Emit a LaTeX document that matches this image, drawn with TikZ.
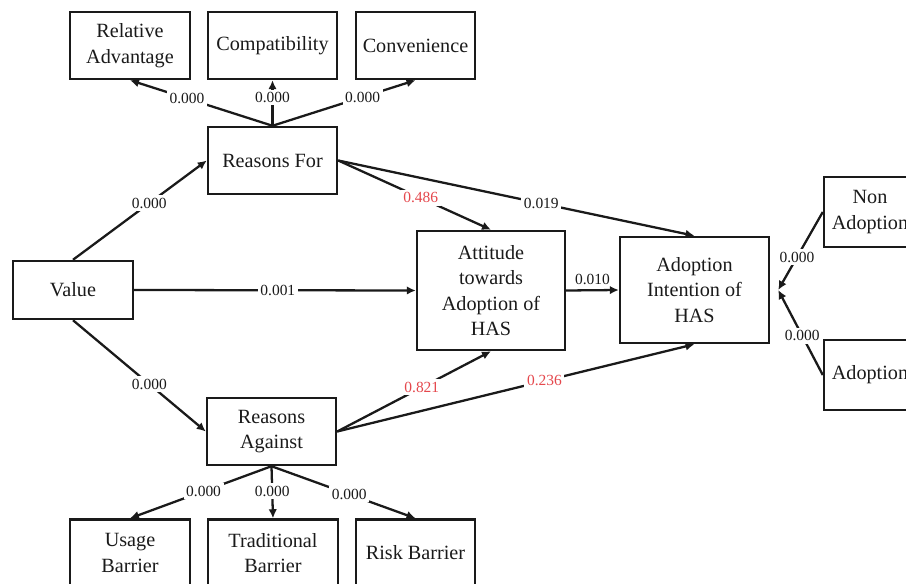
\documentclass[tikz,border=0pt]{standalone}
\usepackage{fontspec}
\setmainfont{Liberation Serif}
\usetikzlibrary{positioning,arrows.meta}
\definecolor{ink}{HTML}{1A1A1A}
\definecolor{weak}{HTML}{E5484D}

\begin{document}
\begin{tikzpicture}[
    x=0.02cm, y=-0.02cm,
    construct/.style={draw=ink, line width=1.4pt, fill=white, align=center, inner sep=2pt, font=\fontsize{11.5}{14.5}\selectfont, text=ink},
    link/.style={-{Latex[length=1.8mm,width=1.7mm]}, line width=1.3pt, ink},
    pval/.style={fill=white, inner sep=1.5pt, font=\fontsize{8.8}{10}\selectfont, text=ink},
    nsig/.style={pval, text=weak}
]
\useasboundingbox (0,0) rectangle (906,584);
\clip (0,0) rectangle (906,584);

\node[construct, minimum width=2.4cm, minimum height=1.34cm] (reladv) at (130,45.5) {Relative\\Advantage};
\node[construct, minimum width=2.58cm, minimum height=1.34cm] (compat) at (272.5,45.5) {Compatibility};
\node[construct, minimum width=2.38cm, minimum height=1.34cm] (conv) at (415.5,45.5) {Convenience};
\node[construct, minimum width=2.58cm, minimum height=1.34cm] (rfor) at (272.5,160.5) {Reasons For};
\node[construct, minimum width=2.4cm, minimum height=1.16cm] (value) at (73,290) {Value};
\node[construct, minimum width=2.96cm, minimum height=2.38cm] (att) at (491,290.5) {Attitude\\towards\\Adoption of\\HAS};
\node[construct, minimum width=2.98cm, minimum height=2.12cm] (aint) at (694.5,290) {Adoption\\Intention of\\HAS};
\node[construct, minimum width=1.84cm, minimum height=1.4cm] (nonad) at (870,212) {Non\\Adoption};
\node[construct, minimum width=1.84cm, minimum height=1.4cm] (adopt) at (870,375) {Adoption};
\node[construct, minimum width=2.58cm, minimum height=1.34cm] (ragainst) at (271.5,431.5) {Reasons\\Against};
\node[construct, minimum width=2.4cm, minimum height=1.34cm] (usage) at (130,553) {Usage\\Barrier};
\node[construct, minimum width=2.6cm, minimum height=1.34cm] (trad) at (273,553) {Traditional\\Barrier};
\node[construct, minimum width=2.38cm, minimum height=1.34cm] (risk) at (415.5,553) {Risk Barrier};

\draw[link] (rfor.north) -- node[pval, pos=0.6] {0.000} (reladv.south);
\draw[link] (rfor.north) -- node[pval, pos=0.62] {0.000} (compat.south);
\draw[link] (rfor.north) -- node[pval, pos=0.63] {0.000} (conv.south);

\draw[link] (value.north) -- node[pval, pos=0.57] {0.000} (rfor.west);
\draw[link] (value.east) -- node[pval, pos=0.51] {0.001} (att.west);
\draw[link] (value.south) -- node[pval, pos=0.575] {0.000} (ragainst.west);

\draw[link] (rfor.east) -- node[nsig, pos=0.54] {0.486} (att.north);
\draw[link] (rfor.east) -- node[pval, pos=0.57] {0.019} (aint.north);
\draw[link] (att.east) -- node[pval, above, fill=none, yshift=1pt] {0.010} (aint.west);
\draw[link] (ragainst.east) -- node[nsig, pos=0.55] {0.821} (att.south);
\draw[link] (ragainst.east) -- node[nsig, pos=0.58] {0.236} (aint.south);

\draw[link] (nonad.west) -- node[pval, pos=0.58] {0.000} ([xshift=0.16cm]aint.east);
\draw[link] (adopt.west) -- node[pval, pos=0.46] {0.000} ([xshift=0.16cm]aint.east);

\draw[link] (ragainst.south) -- node[pval, pos=0.48] {0.000} (usage.north);
\draw[link] (ragainst.south) -- node[pval, pos=0.48] {0.000} (trad.north);
\draw[link] (ragainst.south) -- node[pval, pos=0.54] {0.000} (risk.north);

\end{tikzpicture}
\end{document}
